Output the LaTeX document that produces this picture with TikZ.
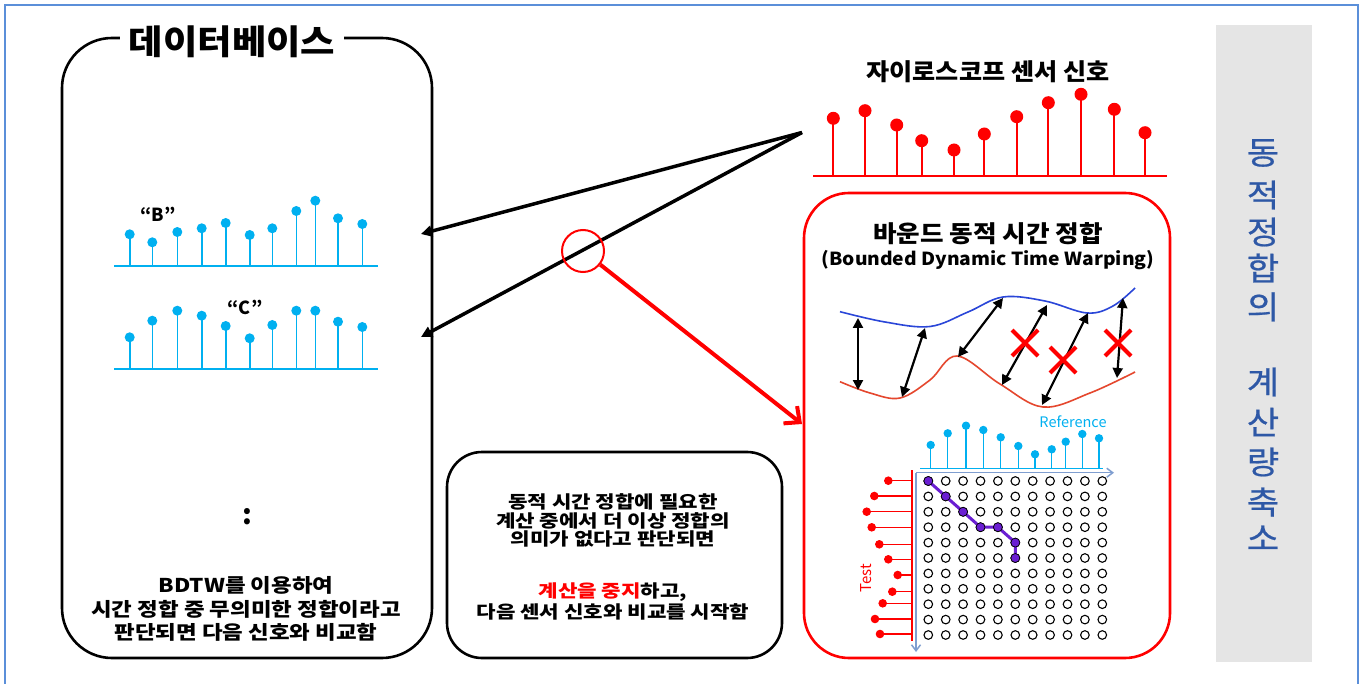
\documentclass[tikz,border=0pt]{standalone}
\usepackage{fontspec}
\setmainfont{Noto Sans CJK KR}
\newfontfamily\kr{Noto Sans CJK KR}
\usetikzlibrary{arrows.meta}
\definecolor{cy}{HTML}{00B0F0}
\definecolor{frameblue}{HTML}{5B8FD9}
\definecolor{navy}{HTML}{2E58A6}
\definecolor{pathviolet}{HTML}{6A1ED2}
\definecolor{axisblue}{HTML}{7F9ED0}
\definecolor{curveblue}{HTML}{2A46D8}
\definecolor{curvered}{HTML}{E5472E}
\definecolor{panelgray}{HTML}{E5E5E5}
\begin{document}
\begin{tikzpicture}[x=1pt,y=-1pt,
  bigbox/.style={draw, line width=2.6pt, rounded corners=#1, inner sep=0pt},
  kb/.style 2 args={font=\kr\bfseries\addfontfeatures{FakeStretch=#2}\fontsize{#1}{#1}\selectfont, inner sep=1pt},
  cystem/.style={cy, line width=1.6pt},
  redstem/.style={red, line width=1.6pt},
  blackarrow/.style={line width=3.5pt, -{Triangle[length=11pt,width=11pt]}},
  dblarrow/.style={line width=2.2pt, {Triangle[length=10pt,width=10pt]}-{Triangle[length=10pt,width=10pt]}},
  redx/.style={red, line width=4pt},
  gridcircle/.style={draw, line width=1.1pt, circle, minimum size=8.6pt, inner sep=0pt},
  pathdot/.style={draw=black, line width=0.7pt, fill=pathviolet, circle, minimum size=9pt, inner sep=0pt},
  axis/.style={axisblue, line width=1.5pt, -{Straight Barb[length=6pt,width=9pt]}}
]
\useasboundingbox (0,0) rectangle (1362,684);
\fill[white] (0,0) rectangle (1362,684);
% outer frame
\draw[frameblue, line width=1.5pt] (5,700) -- (5,5) -- (1358,5) -- (1358,700);

% right gray panel
\node[fill=panelgray, minimum width=96pt, minimum height=637pt, inner sep=0pt] (panel) at (1264,343.5) {};
\foreach \ch/\yy [count=\n] in {동/153,적/195,정/232,합/268,의/307,계/382,산/422,량/462,축/502,소/538}{
  \node[font=\kr\addfontfeatures{FakeStretch=1.1,FakeBold=0.6}\fontsize{32}{32}\selectfont, text=navy, inner sep=0pt] (pt\n) at (1263,\yy) {\ch};
}

% database box
\node[bigbox=50pt, minimum width=370pt, minimum height=620pt] (db) at (247,348) {};
\node[kb={34}{1.1}, fill=white, inner xsep=9pt] (dbtitle) at (232,42) {데이터베이스};

% B signal
\draw[cy, line width=1.8pt] (114,266) -- (378,266);
\foreach \x/\h in {129.7/234.3,152.3/242.3,177.3/232,201.7/228.3,225.7/223,249.7/235,272.3/228.3,296.3/211,315.3/200.7,338/218.3,362.3/224}{
  \draw[cystem] (\x,266) -- (\x,\h);
  \fill[cy] (\x,\h) circle (5pt);
}
\node[kb={18}{1}] (lblB) at (158,214) {“B”};
% C signal
\draw[cy, line width=1.8pt] (114,369) -- (378,369);
\foreach \x/\h in {129.7/337.3,152.3/320.7,177.3/310.7,201.7/315.7,225.7/326,249.7/338.3,272.3/325,296.3/310.7,315.3/310.7,338/321.7,362.3/327}{
  \draw[cystem] (\x,369) -- (\x,\h);
  \fill[cy] (\x,\h) circle (5pt);
}
\node[kb={18}{1}] (lblC) at (245,307) {“C”};

\node[kb={28}{1}] (dots) at (247,517) {:};
\node[kb={19}{1.18}] (dbt1) at (246,585) {BDTW를 이용하여};
\node[kb={19}{1.18}] (dbt2) at (246,609) {시간 정합 중 무의미한 정합이라고};
\node[kb={19}{1.18}] (dbt3) at (246,632) {판단되면 다음 신호와 비교함};

% gyroscope signal
\node[kb={23.5}{1.07}] (gyrotitle) at (988,72) {자이로스코프 센서 신호};
\draw[red, line width=1.8pt] (813,176) -- (1167,176);
\foreach \x/\h in {833.3/118.3,865/110.7,896.7/125,921.7/140.7,954/150,984.3/134,1016.7/116.7,1048.3/102.7,1081/94.3,1114.3/109.3,1145/132.7}{
  \draw[red, line width=2pt] (\x,176) -- (\x,\h);
  \fill[red] (\x,\h) circle (6.5pt);
}

% arrows to database
\coordinate (apex) at (802,132.5);
\coordinate (tipB) at (421,234);
\coordinate (tipC) at (421,337);
\draw[blackarrow] (apex) -- (tipB);
\draw[blackarrow] (apex) -- (tipC);

% red circle and arrow
\node[draw=red, line width=2pt, circle, minimum size=42pt, inner sep=0pt] (mark) at (583,251) {};
\coordinate (redtip) at (802,424);
\draw[red, line width=4pt, -{Straight Barb[length=12pt,width=22pt]}] (mark) -- (redtip);

% middle box
\node[bigbox=35pt, minimum width=335pt, minimum height=206pt] (midbox) at (614.5,555) {};
\node[kb={17.5}{1.21}] (m1) at (613,502) {동적 시간 정합에 필요한};
\node[kb={17.5}{1.21}] (m2) at (613,520.5) {계산 중에서 더 이상 정합의};
\node[kb={17.5}{1.21}] (m3) at (613,539) {의미가 없다고 판단되면};
\node[kb={17.5}{1.21}] (m4) at (613,592) {\textcolor{red}{계산을 중지}하고,};
\node[kb={17.5}{1.21}] (m5) at (613,611.5) {다음 센서 신호와 비교를 시작함};

% BDTW box
\node[bigbox=45pt, draw=red, minimum width=366pt, minimum height=465pt] (bdtw) at (987,425.5) {};
\node[kb={23.5}{1.09}] (bdtwtitle) at (988,234) {바운드 동적 시간 정합};
\node[kb={18}{1.07}] (bdtwsub) at (988,260) {(Bounded Dynamic Time Warping)};

% curves
\draw[curveblue, line width=1.6pt] plot[smooth, tension=0.6] coordinates {(840,311.7) (885,322) (930,326.5) (968,312) (1003,297) (1045,301) (1087,313) (1113,306) (1135,288)};
\draw[curvered, line width=1.6pt] plot[smooth, tension=0.6] coordinates {(840,381.7) (870,393) (900,398) (930,380) (957,356) (1000,384) (1043,407) (1090,393) (1135,372)};

\coordinate (a1) at (858,318); \coordinate (b1) at (858,390);
\coordinate (a2) at (925,328); \coordinate (b2) at (902,397);
\coordinate (a3) at (1003,298); \coordinate (b3) at (958,357);
\coordinate (a4) at (1047,305); \coordinate (b4) at (1002,385);
\coordinate (a5) at (1088,313); \coordinate (b5) at (1042,405);
\coordinate (a6) at (1123,298); \coordinate (b6) at (1117,378);
\foreach \k in {1,...,6}{\draw[dblarrow] (a\k) -- (b\k);}

\foreach \cx/\cy in {1025/343,1063/360,1118/343}{
  \draw[redx] (\cx-13,\cy-13) -- (\cx+13,\cy+13);
  \draw[redx] (\cx-13,\cy+13) -- (\cx+13,\cy-13);
}

% reference signal
\node[font=\kr\fontsize{14.5}{14.5}\selectfont, text=cy, inner sep=0pt] (reflabel) at (1073,422) {Reference};
\draw[cy, line width=1.5pt] (920,468.3) -- (1103,468.3);
\foreach \x/\h in {930.7/445,947.7/433.3,966/425.7,983.3/430,1000.7/437.3,1018.3/446,1035/454.3,1051.7/449.3,1065.7/441.7,1082.3/434,1099/438.3}{
  \draw[cystem, line width=1.3pt] (\x,468.3) -- (\x,\h);
  \fill[cy] (\x,\h) circle (4.2pt);
}
% test signal
\draw[red, line width=1.8pt] (912,470) -- (912,641);
\foreach \y/\x in {480.7/888.3,496/874.3,511.7/866.7,527.3/871.7,544.3/879.3,559.3/888.3,575/897.7,591.7/892.3,603.3/882.7,619/875,634/880}{
  \draw[redstem, line width=1.3pt] (912,\y) -- (\x,\y);
  \fill[red] (\x,\y) circle (4.3pt);
}
\node[font=\kr\fontsize{15}{15}\selectfont, text=red, rotate=90, inner sep=0pt] (testlabel) at (866,578) {Test};

% axes
\coordinate (origin) at (916,472.7);
\coordinate (xend) at (1114,472.7);
\coordinate (yend) at (916,652);
\draw[axis] (origin) -- (xend);
\draw[axis] (origin) -- (yend);

% grid
\foreach \i in {0,...,10}{
  \foreach \j in {0,...,10}{
    \node[gridcircle] (g-\i-\j) at ({928.3+17.4*\i},{481+15.4*\j}) {};
  }
}
\draw[pathviolet, line width=3pt] (g-0-0.center) -- (g-1-1.center) -- (g-2-2.center) -- (g-3-3.center) -- (g-4-3.center) -- (g-5-4.center) -- (g-5-5.center);
\foreach \i/\j in {0/0,1/1,2/2,3/3,4/3,5/4,5/5}{
  \node[pathdot] (p-\i-\j) at (g-\i-\j) {};
}
\end{tikzpicture}
\end{document}
